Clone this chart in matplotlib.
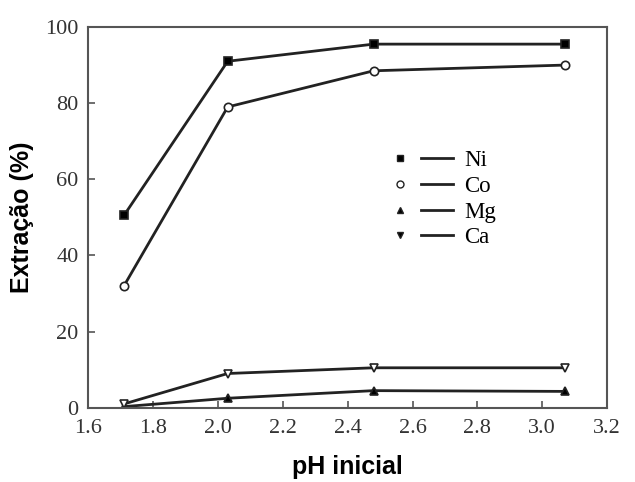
import matplotlib
matplotlib.use("Agg")
import matplotlib.pyplot as plt
from matplotlib.lines import Line2D
from matplotlib.legend_handler import HandlerTuple

ph = [1.71, 2.03, 2.48, 3.07]
ni = [50.5, 91.0, 95.5, 95.5]
co = [32.0, 79.0, 88.5, 90.0]
mg = [0.3, 2.5, 4.5, 4.3]
ca = [1.0, 9.0, 10.5, 10.5]

names = ["Ni", "Co", "Mg", "Ca"]
series = [ni, co, mg, ca]
markers = ["s", "o", "^", "v"]
faces = ["black", "white", "black", "white"]

fig = plt.figure(figsize=(6.35, 4.82), dpi=100)
ax = fig.add_axes([0.139, 0.154, 0.817, 0.79])

handles = []
for y, m, fc in zip(series, markers, faces):
    ax.plot(ph, y, color="#222222", lw=2.0, marker=m, ms=6, mfc=fc, mec="#222222", mew=1.2)
    mk = Line2D([], [], ls="none", marker=m, ms=5, mfc="black" if m != "o" else "white",
                mec="#222222", mew=1)
    ln = Line2D([], [], color="#222222", lw=2.0)
    handles.append((mk, ln))

ax.set_xlim(1.6, 3.2)
ax.set_ylim(0, 100)
ax.set_xticks([1.6, 1.8, 2.0, 2.2, 2.4, 2.6, 2.8, 3.0, 3.2])
ax.set_yticks([0, 20, 40, 60, 80, 100])
ax.set_xticklabels(["1.6", "1.8", "2.0", "2.2", "2.4", "2.6", "2.8", "3.0", "3.2"])

for s in ax.spines.values():
    s.set_color("#555555")
    s.set_linewidth(1.5)
ax.tick_params(direction="in", length=5, width=1.2, color="#555555",
               labelsize=16, labelcolor="#333333")
ax.tick_params(axis="x", pad=8)
ax.tick_params(axis="y", pad=7)
for lab in ax.get_xticklabels() + ax.get_yticklabels():
    lab.set_family("Liberation Serif")

ax.set_xlabel("pH inicial", family="Liberation Sans", fontweight="bold", fontsize=18, labelpad=12)
ax.set_ylabel("Extração (%)", family="Liberation Sans", fontweight="bold", fontsize=18, labelpad=8)

ax.legend(handles, names, handler_map={tuple: HandlerTuple(ndivide=None, pad=0.2)},
          loc="upper left", bbox_to_anchor=(0.53, 0.73), frameon=False,
          prop={"family": "Liberation Serif", "size": 16.5}, handlelength=3.0,
          handletextpad=0.5, labelspacing=0.2)

fig.savefig("out.png", dpi=100)
